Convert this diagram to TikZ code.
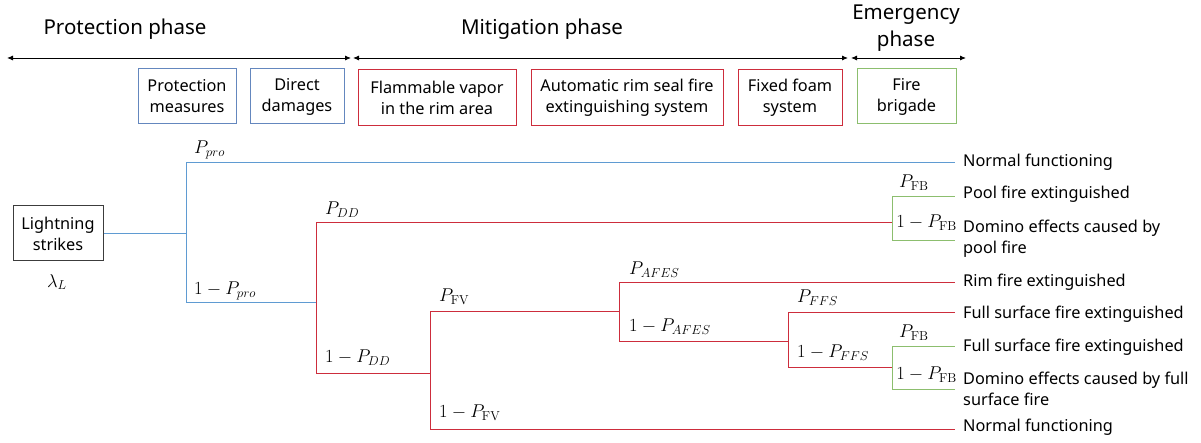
\documentclass[tikz,border=0pt]{standalone}
\usepackage{fix-cm}
\usepackage[no-math]{fontspec}
\setmainfont{Noto Sans}
\usetikzlibrary{arrows.meta}
\definecolor{lblue}{RGB}{95,155,210}
\definecolor{bblue}{RGB}{100,135,190}
\definecolor{lred}{RGB}{205,45,60}
\definecolor{lgreen}{RGB}{140,190,110}
\definecolor{dgray}{RGB}{60,60,60}
\tikzset{
  phasetxt/.style={font=\fontsize{20.5}{27}\selectfont, align=center, inner sep=0pt},
  boxbase/.style={draw, line width=1pt, align=center, inner sep=0pt, minimum height=55pt, font=\fontsize{16.3}{21}\selectfont},
  bluebox/.style={boxbase, draw=bblue},
  redbox/.style={boxbase, draw=lred},
  greenbox/.style={boxbase, draw=lgreen},
  graybox/.style={boxbase, draw=dgray},
  phasearrow/.style={line width=0.9pt, {Latex[length=6pt,width=5pt]}-{Latex[length=6pt,width=5pt]}},
  bl/.style={lblue, line width=1pt},
  rl/.style={lred, line width=1pt},
  gl/.style={lgreen, line width=1pt},
  prob/.style={font=\fontsize{18.5}{21}\selectfont, inner sep=0pt, anchor=west},
  outc/.style={font=\fontsize{16.3}{21}\selectfont, inner sep=0pt, anchor=west, align=left},
}
\begin{document}
\begin{tikzpicture}[x=1pt,y=-1pt]
\useasboundingbox (0,0) rectangle (1201,443);
% phases
\node[phasetxt] (ph1) at (125,29) {Protection phase};
\node[phasetxt] (ph2) at (542,29) {Mitigation phase};
\node[phasetxt] (ph3) at (906,28.5) {Emergency\\phase};
\coordinate (a1) at (7,58);
\coordinate (a2) at (351,58);
\coordinate (a3) at (353,58);
\coordinate (a4) at (848,58);
\coordinate (a5) at (851,58);
\coordinate (a6) at (966,58);
\draw[phasearrow] (a1) -- (a2);
\draw[phasearrow] (a3) -- (a4);
\draw[phasearrow] (a5) -- (a6);
% boxes
\node[bluebox, minimum width=98pt] (pm) at (187,96.5) {Protection\\measures};
\node[bluebox, minimum width=94pt] (dd) at (297,96.5) {Direct\\damages};
\node[redbox, minimum width=158pt, minimum height=56pt] (fv) at (437,98) {Flammable vapor\\in the rim area};
\node[redbox, minimum width=192pt, minimum height=56pt] (ar) at (627,98) {Automatic rim seal fire\\extinguishing system};
\node[redbox, minimum width=104pt, minimum height=56pt] (ff) at (790,98) {Fixed foam\\system};
\node[greenbox, minimum width=99pt] (fb) at (906.5,96.5) {Fire\\brigade};
\node[graybox, minimum width=90pt] (ls) at (58,233.5) {Lightning\\strikes};
\node[inner sep=0pt, font=\fontsize{18.5}{21}\selectfont] (lam) at (57,282) {$\lambda_L$};
% branch coordinates
\coordinate (b0t) at (186,163);
\coordinate (b0b) at (186,303);
\coordinate (b1t) at (316,223);
\coordinate (b1b) at (316,303);
\coordinate (b1l) at (316,373);
\coordinate (b2t) at (430,312);
\coordinate (b2m) at (430,373);
\coordinate (b2b) at (430,429);
\coordinate (b3t) at (619,283);
\coordinate (b3m) at (619,312);
\coordinate (b3b) at (619,341);
\coordinate (b4t) at (788,313);
\coordinate (b4m) at (788,341);
\coordinate (b4b) at (788,367);
\coordinate (g1m) at (892,223);
\coordinate (g1t) at (892,197);
\coordinate (g1b) at (892,241);
\coordinate (g2m) at (892,367);
\coordinate (g2t) at (892,346);
\coordinate (g2b) at (892,389);
\coordinate (e1) at (955,163);
\coordinate (e2) at (955,197);
\coordinate (e3) at (955,241);
\coordinate (e4) at (955,283);
\coordinate (e5) at (955,313);
\coordinate (e6) at (955,346);
\coordinate (e7) at (955,389);
\coordinate (e8) at (955,429);
% blue tree
\draw[bl] (ls.east) -- (ls.east -| b0t);
\draw[bl] (b0t) -- (b0b);
\draw[bl] (b0t) -- (e1);
\draw[bl] (b0b) -- (b1b);
% red tree
\draw[rl] (b1t) -- (b1l);
\draw[rl] (b1t) -- (g1m);
\draw[rl] (b1l) -- (b2m);
\draw[rl] (b2t) -- (b2b);
\draw[rl] (b2t) -- (b3m);
\draw[rl] (b2b) -- (e8);
\draw[rl] (b3t) -- (b3b);
\draw[rl] (b3t) -- (e4);
\draw[rl] (b3b) -- (b4m);
\draw[rl] (b4t) -- (b4b);
\draw[rl] (b4t) -- (e5);
\draw[rl] (b4b) -- (g2m);
% green
\draw[gl] (g1t) -- (g1b);
\draw[gl] (g1t) -- (e2);
\draw[gl] (g1b) -- (e3);
\draw[gl] (g2t) -- (g2b);
\draw[gl] (g2t) -- (e6);
\draw[gl] (g2b) -- (e7);
% probabilities
\node[prob] (p1) at (194,150) {$P_{pro}$};
\node[prob] (p2) at (194,291) {$1-P_{pro}$};
\node[prob] (p3) at (325,210) {$P_{DD}$};
\node[prob] (p4) at (325,358) {$1-P_{DD}$};
\node[prob] (p5) at (439,297) {$P_{\mathrm{FV}}$};
\node[prob] (p6) at (439,413) {$1-P_{\mathrm{FV}}$};
\node[prob] (p7) at (629,270) {$P_{AFES}$};
\node[prob] (p8) at (629,327) {$1-P_{AFES}$};
\node[prob] (p9) at (797,298) {$P_{FFS}$};
\node[prob] (p10) at (797,353) {$1-P_{FFS}$};
\node[prob] (p11) at (899,183) {$P_{\mathrm{FB}}$};
\node[prob, anchor=east] (p12) at (957,223) {$1-P_{\mathrm{FB}}$};
\node[prob] (p13) at (899,333) {$P_{\mathrm{FB}}$};
\node[prob, anchor=east] (p14) at (957,375) {$1-P_{\mathrm{FB}}$};
% outcomes
\node[outc] (o1) at (963,162) {Normal functioning};
\node[outc] (o2) at (963,194) {Pool fire extinguished};
\node[outc] (o3) at (963,238.5) {Domino effects caused by\\pool fire};
\node[outc] (o4) at (963,282) {Rim fire extinguished};
\node[outc] (o5) at (963,314) {Full surface fire extinguished};
\node[outc] (o6) at (963,347) {Full surface fire extinguished};
\node[outc] (o7) at (963,389) {Domino effects caused by full\\surface fire};
\node[outc] (o8) at (963,427) {Normal functioning};
\end{tikzpicture}
\end{document}
